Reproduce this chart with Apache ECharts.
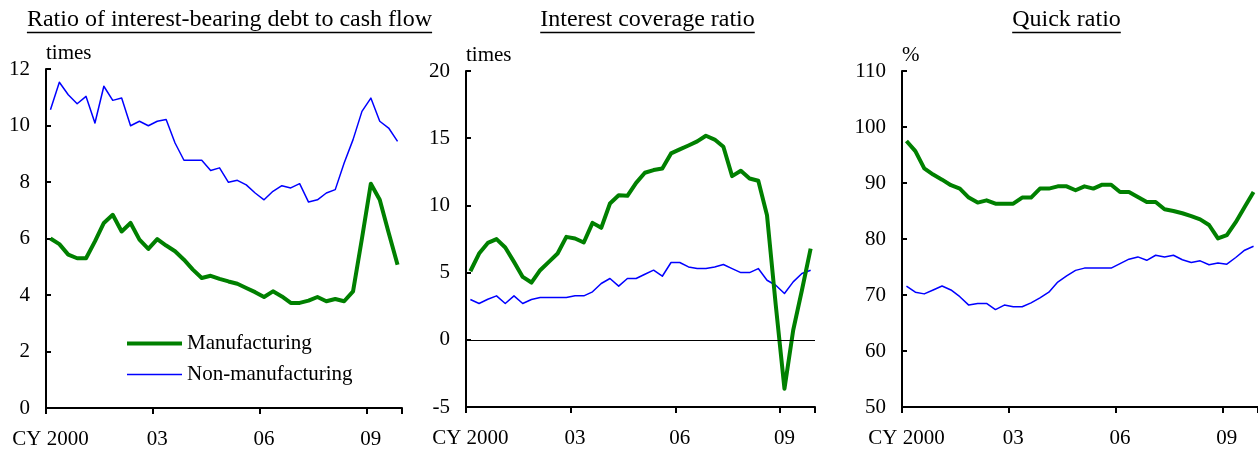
<!DOCTYPE html>
<html>
<head>
<meta charset="utf-8">
<script src="https://cdn.jsdelivr.net/npm/echarts@6/dist/echarts.min.js"></script>
<style>
html,body{margin:0;padding:0;background:#fff;}
#chart{width:1258px;height:451px;}
</style>
</head>
<body>
<div id="chart"></div>
<script>
const categories = [
  '2000Q1','2000Q2','2000Q3','2000Q4','2001Q1','2001Q2','2001Q3','2001Q4',
  '2002Q1','2002Q2','2002Q3','2002Q4','2003Q1','2003Q2','2003Q3','2003Q4',
  '2004Q1','2004Q2','2004Q3','2004Q4','2005Q1','2005Q2','2005Q3','2005Q4',
  '2006Q1','2006Q2','2006Q3','2006Q4','2007Q1','2007Q2','2007Q3','2007Q4',
  '2008Q1','2008Q2','2008Q3','2008Q4','2009Q1','2009Q2','2009Q3','2009Q4'
];
const tickLabels = {'2000Q1':'CY 2000','2003Q1':'03','2006Q1':'06','2009Q1':'09'};

const panelTitles = ['Ratio of interest-bearing debt to cash flow','Interest coverage ratio','Quick ratio'];
const unitNames = ['times','times','%'];
const seriesNames = ['Manufacturing','Non-manufacturing'];

// Ratio of interest-bearing debt to cash flow (times)
const debtCfMfg = [6.0,5.8,5.43,5.3,5.3,5.9,6.55,6.84,6.25,6.55,5.96,5.63,5.98,5.75,5.55,5.25,
  4.9,4.6,4.68,4.57,4.48,4.4,4.25,4.1,3.93,4.13,3.95,3.72,3.72,3.8,3.93,3.78,
  3.86,3.78,4.13,6.0,7.94,7.37,6.2,5.07];
const debtCfNonMfg = [10.56,11.53,11.09,10.77,11.03,10.09,11.39,10.89,10.97,9.99,10.15,9.99,10.15,10.21,9.38,8.77,
  8.77,8.77,8.41,8.5,7.99,8.06,7.9,7.61,7.37,7.67,7.87,7.79,7.94,7.29,7.37,7.61,
  7.73,8.67,9.5,10.5,10.97,10.15,9.91,9.44];

// Interest coverage ratio (times)
const icrMfg = [5.1,6.42,7.21,7.49,6.87,5.8,4.68,4.26,5.18,5.8,6.42,7.66,7.54,7.24,8.7,8.33,
  10.14,10.76,10.71,11.68,12.43,12.63,12.75,13.87,14.17,14.46,14.76,15.18,14.9,14.36,12.18,12.58,
  12.0,11.83,9.27,2.6,-3.64,0.71,3.69,6.79];
const icrNonMfg = [3.0,2.7,3.02,3.27,2.7,3.27,2.7,3.0,3.14,3.14,3.14,3.14,3.27,3.27,3.57,4.19,
  4.56,3.99,4.56,4.56,4.88,5.18,4.73,5.75,5.75,5.42,5.3,5.3,5.42,5.6,5.3,5.0,
  5.0,5.3,4.43,4.06,3.44,4.31,4.93,5.18];

// Quick ratio (%)
const quickMfg = [97.5,95.7,92.6,91.5,90.6,89.6,89.0,87.4,86.5,86.9,86.3,86.3,86.3,87.4,87.4,89.0,
  89.0,89.4,89.4,88.7,89.4,89.0,89.7,89.7,88.4,88.4,87.5,86.6,86.6,85.3,85.0,84.6,
  84.1,83.5,82.5,80.1,80.7,83.0,85.7,88.4];
const quickNonMfg = [71.6,70.5,70.2,70.9,71.6,70.9,69.7,68.2,68.5,68.5,67.4,68.2,67.9,67.9,68.6,69.5,
  70.5,72.3,73.4,74.4,74.8,74.8,74.8,74.8,75.6,76.4,76.8,76.2,77.1,76.8,77.1,76.3,
  75.8,76.1,75.4,75.7,75.5,76.7,78.0,78.7];

const yMin = [0,-5,50], yMax = [12,20,110], yStep = [2,5,10];

const FONT = '"Liberation Serif", "Times New Roman", serif';
const GREEN = '#008000', BLUE = '#0000ff';
const GREEN_W = 4, BLUE_W = 1.5;

const grids = [
  {left:46, width:356, top:69, bottom:43},
  {left:466, width:349, top:71, bottom:44},
  {left:902, width:362, top:71, bottom:44}
];

const tickCats = Object.keys(tickLabels);

const xAxes = grids.map((g,i)=>({
  type:'category', gridIndex:i, data:categories, boundaryGap:true,
  axisLine:{onZero:false, lineStyle:{color:'#000', width:2}},
  axisTick:{show:true, inside:false, length:6, lineStyle:{color:'#000', width:2},
    customValues:tickCats.map(c=>categories.indexOf(c))},
  axisLabel:{interval:0, margin:21, color:'#000', fontSize:21, fontFamily:FONT,
    formatter:function(v){ return tickLabels[v] || ''; }},
  splitLine:{show:false}
}));

const yAxes = grids.map((g,i)=>({
  type:'value', gridIndex:i, min:yMin[i], max:yMax[i], interval:yStep[i],
  name:unitNames[i], nameLocation:'end', nameGap:5,
  nameTextStyle:{color:'#000', fontSize:21, fontFamily:FONT, align:'left', padding:[0,0,0,0]},
  axisLine:{show:true, lineStyle:{color:'#000', width:2}},
  axisTick:{show:true, inside:true, length:5, lineStyle:{color:'#000', width:2}},
  axisLabel:{margin:16, color:'#000', fontSize:21, fontFamily:FONT},
  splitLine:{show:false}
}));

const dataSets = [[debtCfMfg,debtCfNonMfg],[icrMfg,icrNonMfg],[quickMfg,quickNonMfg]];
const series = [];
dataSets.forEach((pair,i)=>{
  series.push({
    name:seriesNames[0], type:'line', xAxisIndex:i, yAxisIndex:i, data:pair[0],
    symbol:'none', lineStyle:{color:GREEN, width:GREEN_W, join:'round'}, itemStyle:{color:GREEN},
    z:3, animation:false,
    markLine: i===1 ? {silent:true, symbol:'none', label:{show:false}, animation:false,
      lineStyle:{color:'#000', width:1, type:'solid'}, data:[{yAxis:0}]} : undefined
  });
  series.push({
    name:seriesNames[1], type:'line', xAxisIndex:i, yAxisIndex:i, data:pair[1],
    symbol:'none', lineStyle:{color:BLUE, width:BLUE_W, join:'round'}, itemStyle:{color:BLUE},
    z:2, animation:false
  });
});

function measure(text, font){
  const c = document.createElement('canvas').getContext('2d');
  c.font = font; return c.measureText(text).width;
}
const titleCenters = [229.5, 647.5, 1066.5];
const TITLE_SIZE = 24;
const graphics = [];
panelTitles.forEach((t,i)=>{
  const w = measure(t, TITLE_SIZE + 'px "Liberation Serif"');
  graphics.push({type:'text', x:titleCenters[i], y:20, silent:true,
    style:{text:t, fontSize:TITLE_SIZE, fontFamily:FONT, fill:'#000', align:'center', verticalAlign:'middle'}});
  graphics.push({type:'line', silent:true,
    shape:{x1:titleCenters[i]-w/2, y1:32.5, x2:titleCenters[i]+w/2, y2:32.5},
    style:{stroke:'#000', lineWidth:1.5}});
});

const chart = echarts.init(document.getElementById('chart'), null, {renderer:'canvas'});
chart.setOption({
  backgroundColor:'#fff',
  animation:false,
  grid:grids,
  xAxis:xAxes,
  yAxis:yAxes,
  legend:{
    data:[
      {name:seriesNames[0], icon:'path://M0 0H55V' + GREEN_W + 'H0Z', itemStyle:{color:GREEN}},
      {name:seriesNames[1], icon:'path://M0 0H55V' + BLUE_W + 'H0Z', itemStyle:{color:BLUE}}
    ],
    orient:'vertical', left:122, top:328, padding:5,
    itemWidth:55, itemHeight:14, itemGap:10, symbolKeepAspect:true,
    textStyle:{color:'#000', fontSize:21, fontFamily:FONT}
  },
  graphic:graphics,
  series:series
});
</script>
</body>
</html>
